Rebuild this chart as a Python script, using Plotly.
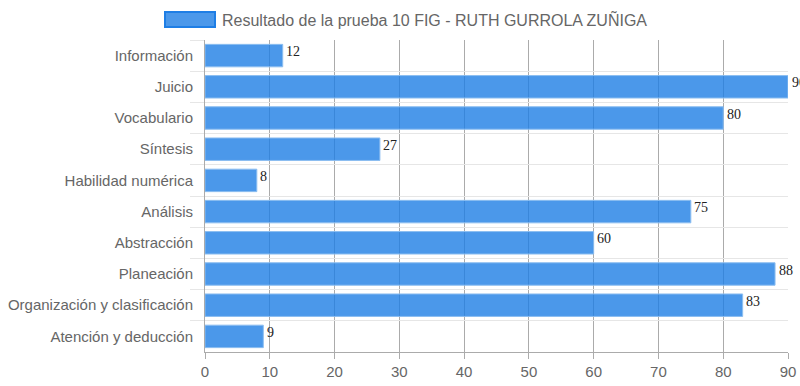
import plotly.graph_objects as go

categories = ["Información", "Juicio", "Vocabulario", "Síntesis", "Habilidad numérica",
              "Análisis", "Abstracción", "Planeación", "Organización y clasificación",
              "Atención y deducción"]
values = [12, 90, 80, 27, 8, 75, 60, 88, 83, 9]
series_name = "Resultado de la prueba 10 FIG - RUTH GURROLA ZUÑIGA"
x_ticks = [0, 10, 20, 30, 40, 50, 60, 70, 80, 90]

fill = "rgba(30,126,229,0.8)"
edge = "rgba(140,190,240,1)"

fig = go.Figure()
fig.add_trace(go.Bar(
    x=values, y=categories, orientation="h", name=series_name,
    marker=dict(color=fill, line=dict(color=edge, width=1)),
    width=0.72, showlegend=False, hoverinfo="skip",
))

for v, c in zip(values, categories):
    fig.add_annotation(x=v, y=c, text=str(v), showarrow=False, xanchor="left",
                       xshift=1.5, yshift=4, font=dict(family="Liberation Serif", size=14, color="#222"))

# custom legend
PL, PW, PB, PH = 205, 583, 352, 312
fig.add_shape(type="rect", xref="paper", yref="paper",
              x0=(165 - PL) / PW, x1=(215 - PL) / PW,
              y0=(PB - 27) / PH, y1=(PB - 12) / PH,
              fillcolor=fill, line=dict(color="#1e7ee5", width=2))
fig.add_annotation(xref="paper", yref="paper", x=(220 - PL) / PW, y=(PB - 19.5) / PH,
                   text=series_name, showarrow=False, xanchor="left", yanchor="middle",
                   font=dict(family="Liberation Sans", size=16, color="#666"))

fig.update_layout(
    width=800, height=386,
    margin=dict(l=205, r=12, t=40, b=34),
    paper_bgcolor="white", plot_bgcolor="white",
    bargap=0.28,
    xaxis=dict(range=[0, 90], tickvals=x_ticks, showgrid=True, gridcolor="rgba(0,0,0,0.33)",
               gridwidth=1, zeroline=False, showline=True, linecolor="rgba(0,0,0,0.33)",
               ticks="outside", ticklen=6, tickcolor="rgba(0,0,0,0.33)", automargin=False,
               tickfont=dict(family="Liberation Sans", size=15, color="#666")),
    yaxis=dict(type="category", autorange="reversed", showgrid=True, gridcolor="#e6e6e6",
               tickson="boundaries", ticks="outside", ticklen=14, tickcolor="#e6e6e6",
               ticklabelstandoff=8,
               showline=True, linecolor="rgba(0,0,0,0.33)", zeroline=False, automargin=False,
               tickfont=dict(family="Liberation Sans", size=15, color="#666")),
)

fig.write_html("out.html", config={"displayModeBar": False},
               post_script="document.body.style.margin='0';document.body.style.overflow='hidden';")
